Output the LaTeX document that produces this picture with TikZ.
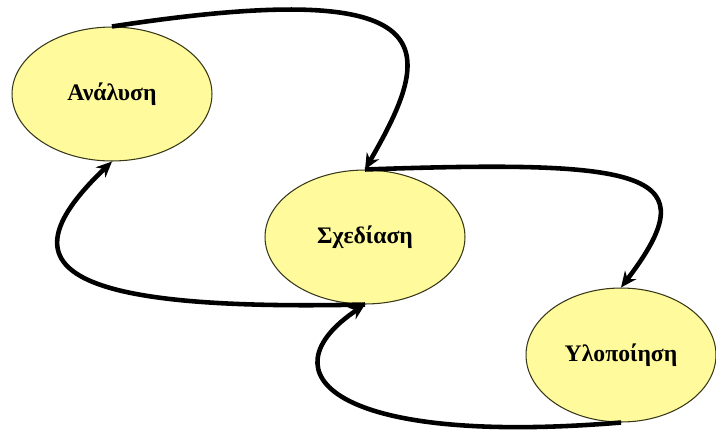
\documentclass[tikz,border=0pt]{standalone}
\usepackage{fontspec}
\setmainfont{Liberation Serif}
\usetikzlibrary{shapes.geometric,arrows.meta}
\definecolor{stagefill}{RGB}{255,250,155}
\definecolor{stageline}{RGB}{55,55,25}
\tikzset{
  stage/.style={ellipse,draw=stageline,fill=stagefill,line width=0.6pt,
    minimum width=4cm,minimum height=2.68cm,inner sep=0pt,
    font=\fontsize{13.5}{15}\selectfont\bfseries},
  flow/.style={line width=2.6pt,-{Stealth[length=9pt,width=8pt]}}
}
\begin{document}
\begin{tikzpicture}[x=0.02cm,y=-0.02cm]
        \useasboundingbox (0,0) rectangle (716,430);
        %% stages
        \node[stage] (analysh) at (112,94) {Ανάλυση};
        \node[stage] (sxediash) at (365,237) {Σχεδίαση};
        \node[stage,minimum width=3.8cm] (ylopoihsh) at (621,355) {Υλοποίηση};
        %% forward
        \draw[flow] (analysh.north) .. controls +(340,-52) and +(70,-121) .. (sxediash.north);
        \draw[flow] (sxediash.north) .. controls +(285,-10) and +(88,-115) .. (ylopoihsh.north);
        %% backward
        \draw[flow] (ylopoihsh.south) .. controls +(-290,24) and +(-102,68) .. (sxediash.south);
        \draw[flow] (sxediash.south) .. controls +(-310,7) and +(-110,105) .. (analysh.south);
    \end{tikzpicture}
\end{document}
